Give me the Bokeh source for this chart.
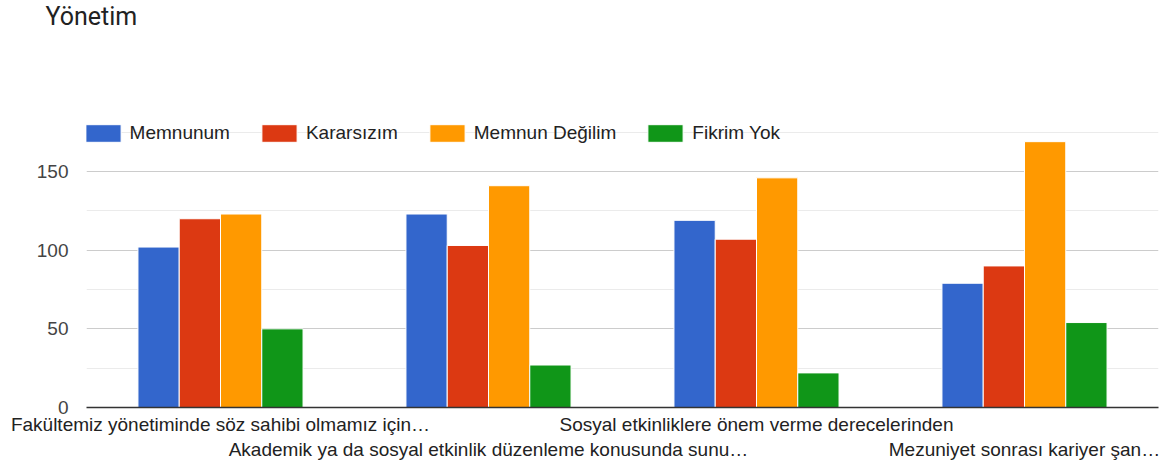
from bokeh.plotting import figure
from bokeh.models import ColumnDataSource, Range1d, FixedTicker, Legend, LegendItem, Title
from bokeh.transform import dodge
from bokeh.embed import file_html
from bokeh.resources import INLINE

title_text = "Yönetim"
categories = [
    "Fakültemiz yönetiminde söz sahibi olmamız için…",
    "Akademik ya da sosyal etkinlik düzenleme konusunda sunu…",
    "Sosyal etkinliklere önem verme derecelerinden",
    "Mezuniyet sonrası kariyer şan…",
]
series_names = ["Memnunum", "Kararsızım", "Memnun Değilim", "Fikrim Yok"]
memnunum = [102, 123, 119, 79]
kararsizim = [120, 103, 107, 90]
memnun_degilim = [123, 141, 146, 169]
fikrim_yok = [50, 27, 22, 54]
y_ticks = [0, 50, 100, 150]
y_minor_ticks = [25, 75, 125, 175]
colors = ["#3366cc", "#dc3912", "#ff9900", "#109618"]

series_values = [memnunum, kararsizim, memnun_degilim, fikrim_yok]
keys = ["s0", "s1", "s2", "s3"]
xs = list(range(len(categories)))
data = {"x": xs}
for k, vals in zip(keys, series_values):
    data[k] = vals
src = ColumnDataSource(data)

p = figure(width=1163, height=462, output_backend="svg", toolbar_location=None,
           x_range=Range1d(-0.5, len(categories) - 0.5), y_range=Range1d(0, 185),
           min_border_left=86, min_border_right=5, min_border_top=116, min_border_bottom=54)
p.outline_line_color = None
p.background_fill_color = "white"

# spacer between title and plot frame (closest to frame), then the real title above it
p.add_layout(Title(text=" ", text_font_size="10px", standoff=71), "above")
p.add_layout(Title(text=title_text, align="left", offset=-41, standoff=0, vertical_align="top",
                   text_font="Roboto", text_font_size="25px", text_font_style="normal",
                   text_color="#222222"), "above")

bw = 0.154
renderers = []
for i, (k, c) in enumerate(zip(keys, colors)):
    r = p.vbar(x=dodge("x", (i - 1.5) * bw, range=p.x_range), top=k, width=bw, source=src,
               fill_color=c, line_color="white", line_width=1)
    renderers.append(r)

legend = Legend(items=[LegendItem(label=n, renderers=[r]) for n, r in zip(series_names, renderers)],
                orientation="horizontal", location=(-5.4, 263.2),
                background_fill_alpha=0, border_line_alpha=0,
                glyph_width=44, glyph_height=22, label_standoff=5, spacing=27,
                padding=0, margin=0, label_height=18,
                label_text_font="Liberation Sans", label_text_font_size="19px",
                label_text_color="#222222")
p.add_layout(legend)

# axes
p.yaxis.ticker = FixedTicker(ticks=y_ticks, minor_ticks=y_minor_ticks)
p.yaxis.axis_line_color = None
p.yaxis.major_tick_line_color = None
p.yaxis.minor_tick_line_color = None
p.yaxis.major_label_text_font = "Liberation Sans"
p.yaxis.major_label_text_font_size = "19px"
p.yaxis.major_label_text_color = "#444444"
p.yaxis.major_label_standoff = 12

p.xaxis.ticker = FixedTicker(ticks=xs)
p.xaxis.major_label_overrides = {x: (("\n" + c) if x % 2 else c) for x, c in zip(xs, categories)}
p.xaxis.axis_line_color = "#333333"
p.xaxis.axis_line_width = 1.5
p.xaxis.major_tick_line_color = None
p.xaxis.minor_tick_line_color = None
p.xaxis.major_label_text_font = "Liberation Sans"
p.xaxis.major_label_text_font_size = "19px"
p.xaxis.major_label_text_color = "#222222"
p.xaxis.major_label_text_line_height = 1.2
p.xaxis.major_label_standoff = 0

p.xgrid.visible = False
p.ygrid.grid_line_color = "#cccccc"
p.ygrid.minor_grid_line_color = "#ebebeb"

open("out.html", "w").write(file_html(p, INLINE))
